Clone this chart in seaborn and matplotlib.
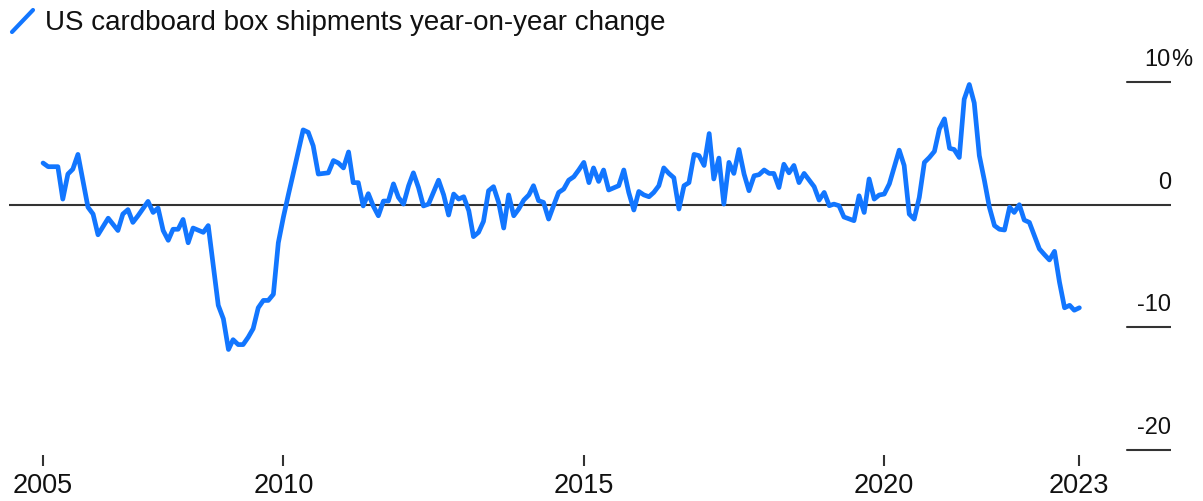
# ======================================================================================================================
# ================================================ Données du graphique ================================================
# ======================================================================================================================
import pandas as pd
import matplotlib.pyplot as plt
import matplotlib.transforms as mtransforms
from matplotlib.lines import Line2D
import seaborn as sns

# mois écoulés depuis janvier 2006
months = [0, 1, 3, 4, 5, 6, 7, 9, 10, 11, 13, 15, 16, 17, 18, 19, 21, 22, 23, 24,
          25, 26, 27, 28, 29, 30, 32, 33, 35, 36, 37, 38, 39, 40, 41, 42, 43, 44, 45, 46,
          47, 48, 49, 50, 52, 53, 54, 55, 57, 58, 59, 60, 61, 62, 63, 64, 65, 66, 67, 68,
          69, 70, 71, 72, 73, 74, 75, 76, 77, 79, 80, 81, 82, 83, 84, 85, 86, 87, 88, 89,
          90, 91, 92, 93, 94, 95, 96, 97, 98, 99, 100, 101, 102, 103, 104, 105, 106, 107, 108, 109,
          110, 111, 112, 113, 115, 116, 117, 118, 119, 120, 121, 122, 123, 124, 125, 126, 127, 128, 129, 130,
          131, 132, 133, 134, 135, 136, 137, 138, 139, 140, 141, 142, 143, 144, 145, 146, 147, 148, 149, 150,
          151, 152, 154, 155, 156, 157, 158, 159, 160, 162, 163, 164, 165, 166, 167, 168, 169, 171, 172, 173,
          174, 175, 176, 177, 178, 179, 180, 181, 182, 183, 184, 185, 186, 187, 188, 189, 190, 191, 192, 193,
          194, 195, 196, 197, 198, 199, 200, 201, 202, 203, 204, 205, 206, 207]

# variation sur un an des expéditions de cartons (%)
yoy = [3.4, 3.1, 3.1, 0.46, 2.5, 2.9, 4.1, -0.2, -0.76, -2.45, -1.1, -2.1, -0.76, -0.4, -1.44, -0.9, 0.27, -0.63, -0.27, -2.1,
       -2.9, -2.0, -2.0, -1.2, -3.1, -1.9, -2.25, -1.7, -8.2, -9.3, -11.8, -11.0, -11.4, -11.4, -10.8, -10.1, -8.4, -7.8, -7.8, -7.3,
       -3.1, -1.0, 0.87, 2.5, 6.1, 5.9, 4.8, 2.5, 2.6, 3.6, 3.4, 3.0, 4.3, 1.8, 1.8, -0.1, 0.9, -0.1, -0.9, 0.3,
       0.3, 1.7, 0.6, 0.05, 1.55, 2.6, 1.4, -0.1, 0.05, 2.0, 0.8, -0.84, 0.87, 0.46, 0.65, -0.5, -2.6, -2.25, -1.36, 1.14,
       1.47, 0.19, -1.9, 0.8, -0.9, -0.35, 0.38, 0.8, 1.55, 0.33, 0.19, -1.17, -0.08, 1.0, 1.28, 2.0, 2.28, 2.83, 3.45, 1.8,
       3.0, 1.9, 2.83, 1.2, 1.55, 2.83, 1.0, -0.43, 1.08, 0.8, 0.65, 1.0, 1.55, 3.0, 2.55, 2.2, -0.35, 1.55, 1.8, 4.1,
       4.0, 3.2, 5.8, 2.1, 3.8, 0.05, 3.45, 2.55, 4.5, 2.5, 1.14, 2.36, 2.45, 2.83, 2.55, 2.55, 1.4, 3.3, 2.6, 3.2,
       1.8, 2.55, 1.47, 0.38, 1.0, -0.08, 0.05, -0.08, -1.0, -1.3, 0.73, -0.63, 2.1, 0.46, 0.79, 0.87, 1.7, 4.45, 3.2, -0.76,
       -1.17, 0.6, 3.45, 3.85, 4.35, 6.17, 7.0, 4.6, 4.5, 3.85, 8.6, 9.8, 8.3, 4.0, 1.96, -0.2, -1.7, -2.0, -2.06, -0.2,
       -0.63, 0.0, -1.25, -1.44, -2.5, -3.6, -4.07, -4.5, -3.8, -6.3, -8.4, -8.2, -8.6, -8.4]

tick_dates = ['2006-01-01', '2010-01-01', '2015-01-01', '2020-01-01', '2023-04-01']
tick_labels = ['2005', '2010', '2015', '2020', '2023']
y_ticks = [10, 0, -10, -20]
y_labels = ['10', '0', '-10', '-20']
title = 'US cardboard box shipments year-on-year change'

df = pd.DataFrame({
    'date': [pd.Timestamp('2006-01-01') + pd.DateOffset(months=m) for m in months],
    'yoy': yoy,
})

# ======================================================================================================================
# ===================================================== Affichage ======================================================
# ======================================================================================================================
sns.set_theme(style='white')
plt.rcParams['font.family'] = ['Liberation Sans', 'DejaVu Sans']

bleu = '#1276ff'
gris = '#333333'

fig = plt.figure(figsize=(12.03, 5.01), dpi=100)
ax = fig.add_axes([9 / 1203, 46 / 501, 1162 / 1203, 397.5 / 501])

sns.lineplot(data=df, x='date', y='yoy', color=bleu, lw=3.4, ax=ax, legend=False)

ax.set_xlim(pd.Timestamp('2005-06-08'), pd.Timestamp('2024-10-09'))
ax.set_ylim(-20.4, 12)
sns.despine(ax=ax, left=True, bottom=True)
ax.set_xlabel('')
ax.set_ylabel('')

# axe des x : petites graduations verticales
ax.set_xticks(pd.to_datetime(tick_dates))
ax.set_xticklabels(tick_labels)
ax.tick_params(axis='x', bottom=True, length=8, width=1.5, color=gris, pad=5, labelsize=19.5, labelcolor='#111111')
ax.set_yticks([])

# ligne du zéro + graduations à droite
ax.axhline(0, color=gris, lw=1.5, zorder=1)
for v in y_ticks:
    if v != 0:
        ax.axhline(v, xmin=1118 / 1162, xmax=1, color=gris, lw=1.5)

trans = mtransforms.blended_transform_factory(ax.transAxes, ax.transData)
trans_txt = mtransforms.offset_copy(trans, fig=fig, y=16, units='dots')
for v, lab in zip(y_ticks, y_labels):
    ax.text(1.0, v, lab, transform=trans_txt, ha='right', va='baseline', fontsize=17, color='#111111')
ax.text(1.0, y_ticks[0], '%', transform=trans_txt, ha='left', va='baseline', fontsize=17, color='#111111')

# légende / titre
fig.add_artist(Line2D([12 / 1203, 33 / 1203], [1 - 32 / 501, 1 - 10 / 501], color=bleu, lw=3, solid_capstyle='round'))
fig.text(45 / 1203, 1 - 29.5 / 501, title, ha='left', va='baseline', fontsize=20, color='#111111')

fig.savefig('out.png', dpi=100)
